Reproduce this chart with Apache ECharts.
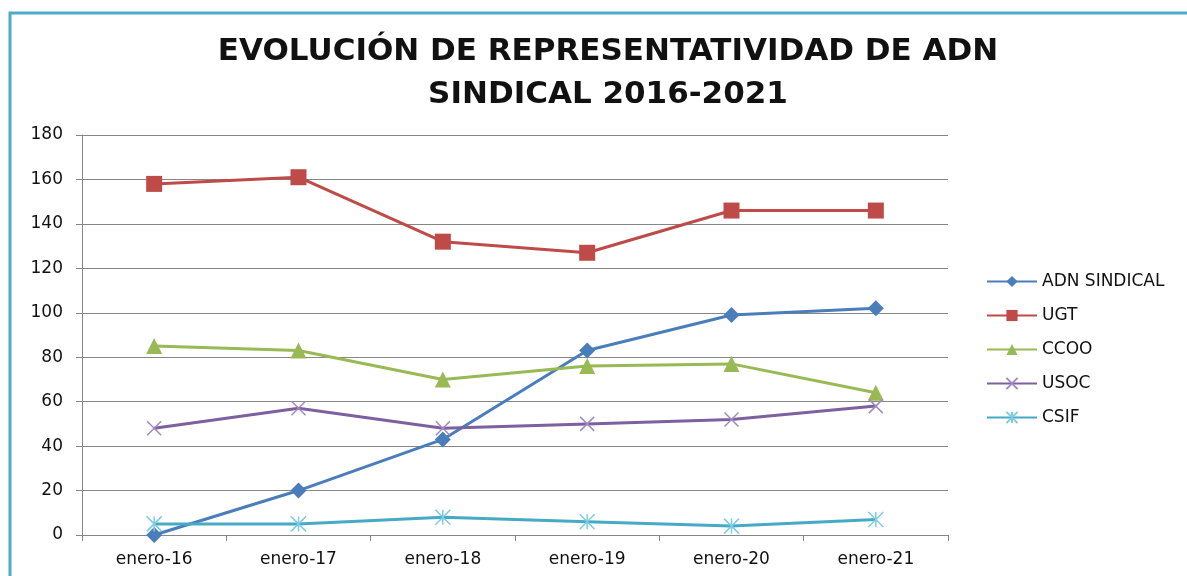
<!DOCTYPE html>
<html>
<head>
<meta charset="utf-8">
<script src="https://cdn.jsdelivr.net/npm/echarts@6/dist/echarts.min.js"></script>
<style>
html,body{margin:0;padding:0;background:#fff;}
#main{width:1187px;height:576px;}
</style>
</head>
<body>
<div id="main"></div>
<script>
// datos
var categorias = ['enero-16','enero-17','enero-18','enero-19','enero-20','enero-21'];
var adnSindical = [0, 20, 43, 83, 99, 102];
var ugt = [158, 161, 132, 127, 146, 146];
var ccoo = [85, 83, 70, 76, 77, 64];
var usoc = [48, 57, 48, 50, 52, 58];
var csif = [5, 5, 8, 6, 4, 7];

var fuente = 'DejaVu Sans';
// marcadores tipo excel
var cruz = 'path://M0,0 L10,10 M10,0 L0,10';
var asterisco = 'path://M0,0 L10,10 M10,0 L0,10 M5,0 L5,10';

var dom = document.getElementById('main');
var myChart = echarts.init(dom);

var serie = function(nombre, datos, color, simbolo, tam, extra){
	var s = {
		name: nombre,
		type: 'line',
		data: datos,
		symbol: simbolo,
		symbolSize: tam,
		showAllSymbol: true,
		lineStyle: { color: color, width: 3 },
		itemStyle: { color: color, borderWidth: 0 }
	};
	if(extra){ s.itemStyle = extra; }
	return s;
};

var option = {
	animation: false,
	color: ['#4a7ebb','#be4b48','#98b954','#7d60a0','#46aac5'],
	title: {
		text: 'EVOLUCIÓN DE REPRESENTATIVIDAD DE ADN\nSINDICAL 2016-2021',
		left: 603,
		top: 25,
		textAlign: 'center',
		textStyle: {
			fontFamily: fuente,
			fontSize: 31,
			fontWeight: 'bold',
			color: '#111',
			lineHeight: 43
		}
	},
	graphic: [{
		type: 'rect',
		shape: { x: 10, y: 13, width: 1300, height: 700 },
		style: { fill: 'none', stroke: '#4bacc6', lineWidth: 3 },
		silent: true
	}],
	legend: {
		orient: 'vertical',
		left: 981,
		top: 268,
		itemWidth: 50,
		itemHeight: 14,
		itemGap: 17,
		textStyle: { fontFamily: fuente, fontSize: 17, color: '#111' },
		data: ['ADN SINDICAL','UGT','CCOO','USOC','CSIF']
	},
	grid: { left: 82, right: 239, top: 135, bottom: 41 },
	xAxis: {
		type: 'category',
		data: categorias,
		boundaryGap: true,
		axisLine: { lineStyle: { color: '#868686', width: 1 } },
		axisTick: { show: true, length: 6, lineStyle: { color: '#868686' } },
		axisLabel: { fontFamily: fuente, fontSize: 17, color: '#111', margin: 16 }
	},
	yAxis: {
		type: 'value',
		min: 0,
		max: 180,
		interval: 20,
		axisLine: { show: true, lineStyle: { color: '#868686', width: 1 } },
		axisTick: { show: true, length: 6, lineStyle: { color: '#868686' } },
		axisLabel: { fontFamily: fuente, fontSize: 17, color: '#111', margin: 19 },
		splitLine: { lineStyle: { color: '#868686', width: 1 } }
	},
	series: [
		serie('ADN SINDICAL', adnSindical, '#4a7ebb', 'diamond', 16),
		serie('UGT', ugt, '#be4b48', 'rect', 16),
		serie('CCOO', ccoo, '#98b954', 'triangle', 16),
		serie('USOC', usoc, '#7d60a0', cruz, 14, { color: 'none', borderColor: '#a08cc0', borderWidth: 1.5 }),
		serie('CSIF', csif, '#46aac5', asterisco, 15, { color: 'none', borderColor: '#7fcce0', borderWidth: 1.5 })
	]
};

if(option && typeof option === "object") {
	myChart.setOption(option, true);
}
</script>
</body>
</html>
